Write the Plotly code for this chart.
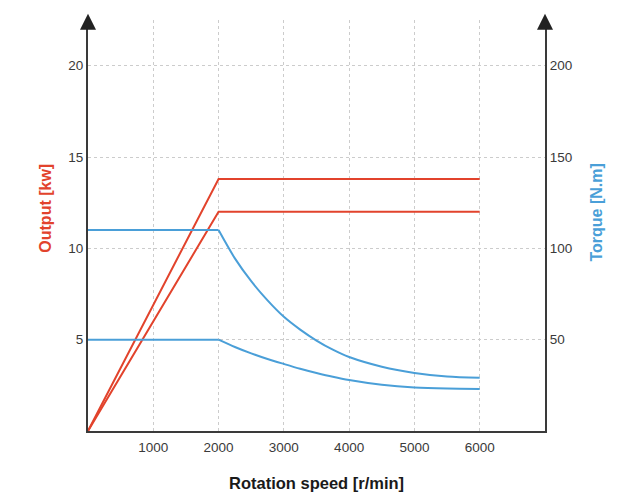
import plotly.graph_objects as go

# Data
speed_out = [0, 2000, 6000]
output_high = [0, 13.8, 13.8]
output_low = [0, 12.0, 12.0]

speed_tq = [0, 2000, 2250, 2500, 2750, 3000, 3250, 3500, 3750, 4000, 4500, 5000, 5500, 6000]
torque_high = [110, 110, 94.5, 82, 71.5, 62.5, 55.5, 49.5, 44.5, 40.5, 35.2, 31.8, 29.9, 29.2]
torque_low = [50, 50, 46, 42.5, 39.4, 36.7, 34.1, 31.8, 29.7, 27.9, 25.3, 23.8, 23.2, 23.0]

x_ticks = [1000, 2000, 3000, 4000, 5000, 6000]
y_ticks = [5, 10, 15, 20]
y2_ticks = [50, 100, 150, 200]

RED = "#e2432c"
BLUE = "#4a9fd8"
AX = "#3a3a3a"
FONT = "Liberation Sans"

fig = go.Figure()
for ys in (output_high, output_low):
    fig.add_trace(go.Scatter(x=speed_out, y=ys, mode="lines",
                             line=dict(color=RED, width=2), yaxis="y", showlegend=False))
for ys in (torque_high, torque_low):
    # constant-torque part
    fig.add_trace(go.Scatter(x=speed_tq[:2], y=ys[:2], mode="lines",
                             line=dict(color=BLUE, width=2), yaxis="y2", showlegend=False))
    # field-weakening part
    fig.add_trace(go.Scatter(x=speed_tq[1:], y=ys[1:], mode="lines",
                             line=dict(color=BLUE, width=2, shape="spline", smoothing=0.8),
                             yaxis="y2", showlegend=False))

grid = dict(showgrid=True, gridcolor="#cccccc", griddash="dot", gridwidth=1)

fig.update_layout(
    width=606, height=487,
    margin=dict(l=80, r=69, t=12, b=64),
    plot_bgcolor="white", paper_bgcolor="white",
    font=dict(family=FONT, size=13, color=AX),
    xaxis=dict(range=[0, 7000], tickvals=x_ticks, showline=True, linecolor=AX, linewidth=2,
               zeroline=False, ticks="", tickfont=dict(size=13.5, color=AX), automargin=False,
               ticklabelstandoff=3, **grid),
    yaxis=dict(range=[0, 22.5], tickvals=y_ticks, showline=True, linecolor=AX, linewidth=2,
               zeroline=False, ticks="", tickfont=dict(size=13.5, color=AX), automargin=False,
               **grid),
    yaxis2=dict(range=[0, 225], tickvals=y2_ticks, overlaying="y", side="right",
                showline=True, linecolor=AX, linewidth=2, showgrid=False, zeroline=False,
                ticks="", tickfont=dict(size=13.5, color=AX), automargin=False),
)

# axis titles (placed like the reference)
fig.add_annotation(text="<b>Rotation speed [r/min]</b>", xref="paper", yref="paper", x=0.5, y=-0.1265,
                   xanchor="center", yanchor="middle", showarrow=False,
                   font=dict(size=16.5, color="#1a1a1a"))
fig.add_annotation(text="<b>Output [kw]</b>", xref="paper", yref="paper", x=-0.0926, y=0.5426,
                   xanchor="center", yanchor="middle", textangle=-90, showarrow=False,
                   font=dict(size=16, color=RED))
fig.add_annotation(text="<b>Torque [N.m]</b>", xref="paper", yref="paper", x=1.1138, y=0.5316,
                   xanchor="center", yanchor="middle", textangle=-90, showarrow=False,
                   font=dict(size=16, color=BLUE))

# axis arrowheads
for xp in (0, 1):
    fig.add_annotation(x=xp, y=1.015, xref="paper", yref="paper", ax=0, ay=14,
                       showarrow=True, arrowhead=2, arrowsize=1.6, arrowwidth=2,
                       arrowcolor="#222", text="")

fig.write_html("out.html")
